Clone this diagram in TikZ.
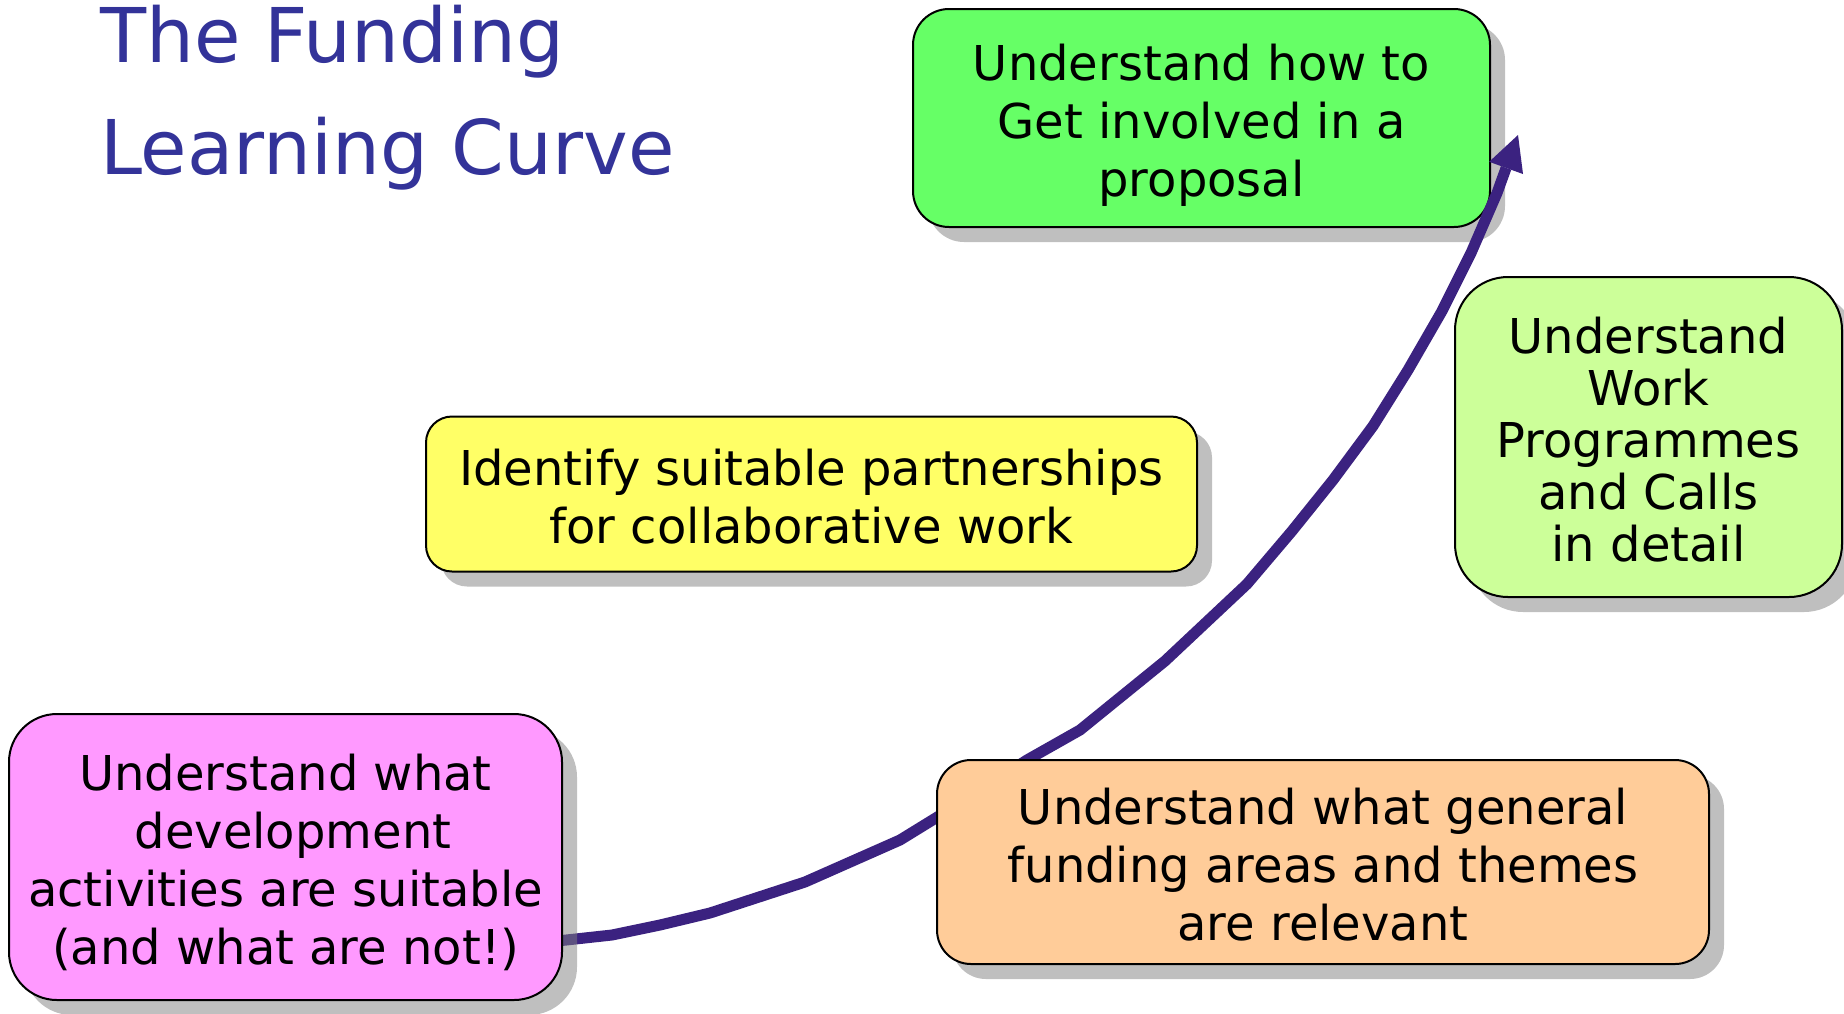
\documentclass[tikz,border=0pt]{standalone}
\usepackage{fontspec}
\setmainfont{DejaVu Sans}
\usetikzlibrary{arrows.meta,shadows}
\definecolor{titleblue}{RGB}{51,51,153}
\definecolor{curvepurple}{RGB}{59,34,128}
\definecolor{boxgreen}{RGB}{102,255,102}
\definecolor{boxlime}{RGB}{204,255,153}
\definecolor{boxyellow}{RGB}{255,255,102}
\definecolor{boxpink}{RGB}{255,153,255}
\definecolor{boxorange}{RGB}{255,204,153}
\pgfdeclarelayer{back}
\pgfdeclarelayer{mid}
\pgfsetlayers{back,mid,main}
\tikzset{
  card/.style={draw=black, line width=2pt, inner sep=0pt, align=center,
    font=\fontsize{48}{58}\selectfont, text depth=0pt,
    drop shadow={shadow xshift=15pt, shadow yshift=-15pt, fill=black!50, opacity=0.5}},
  titletext/.style={text=titleblue, font=\fontsize{75.5}{112}\selectfont, inner sep=0pt, anchor=base west},
  curve/.style={draw=curvepurple, line width=11pt, line join=round,
    -{Triangle[length=35pt,width=36pt,line width=0pt]}}
}
\begin{document}
\begin{tikzpicture}[x=1pt,y=-1pt]
\useasboundingbox (0,0) rectangle (1844,1013);
\begin{pgfonlayer}{back}
\fill[white] (0,0) rectangle (1844,1013);
\node[titletext] (title1) at (100,62) {The Funding};
\node[titletext] (title2) at (100,174) {Learning Curve};
\node[card, fill=boxgreen, minimum width=577pt, minimum height=218pt, rounded corners=36pt,
  text height=156pt]
  (green) at (1201.5,118) {Understand how to\\Get involved in a\\proposal};
\node[card, fill=boxlime, minimum width=387pt, minimum height=320pt, rounded corners=53pt,
  font=\fontsize{48}{52}\selectfont, text height=248pt]
  (lime) at (1648.5,437) {Understand\\Work\\Programmes\\and Calls\\in detail};
\node[card, fill=boxyellow, minimum width=771pt, minimum height=155pt, rounded corners=26pt,
  text height=98pt]
  (yellow) at (811.5,494) {Identify suitable partnerships\\for collaborative work};
\end{pgfonlayer}
\node[card, fill=boxpink, minimum width=553pt, minimum height=286pt, rounded corners=48pt,
  text height=214pt]
  (pink) at (285.5,857) {Understand what\\\hspace*{15pt}development\\activities are suitable\\(and what are not!)};
\node[card, fill=boxorange, minimum width=772pt, minimum height=204pt, rounded corners=34pt,
  text height=156pt]
  (orange) at (1323,862) {Understand what general\\funding areas and themes\\are relevant};
\coordinate (tip) at (1518,135);
\begin{pgfonlayer}{mid}
\draw[curve] ([xshift=-15pt,yshift=-85pt]pink.east) -- (612,935) -- (660,925) -- (710,913)
  -- (805,882) -- (900,840) -- (965,800) -- (1027,760) -- (1080,730) -- (1165,661)
  -- (1247,584) -- (1292,531) -- (1333,480) -- (1373,426) -- (1408,370) -- (1442,311)
  -- (1471,253) -- (1497,193) -- (tip);
\end{pgfonlayer}
\end{tikzpicture}
\end{document}
